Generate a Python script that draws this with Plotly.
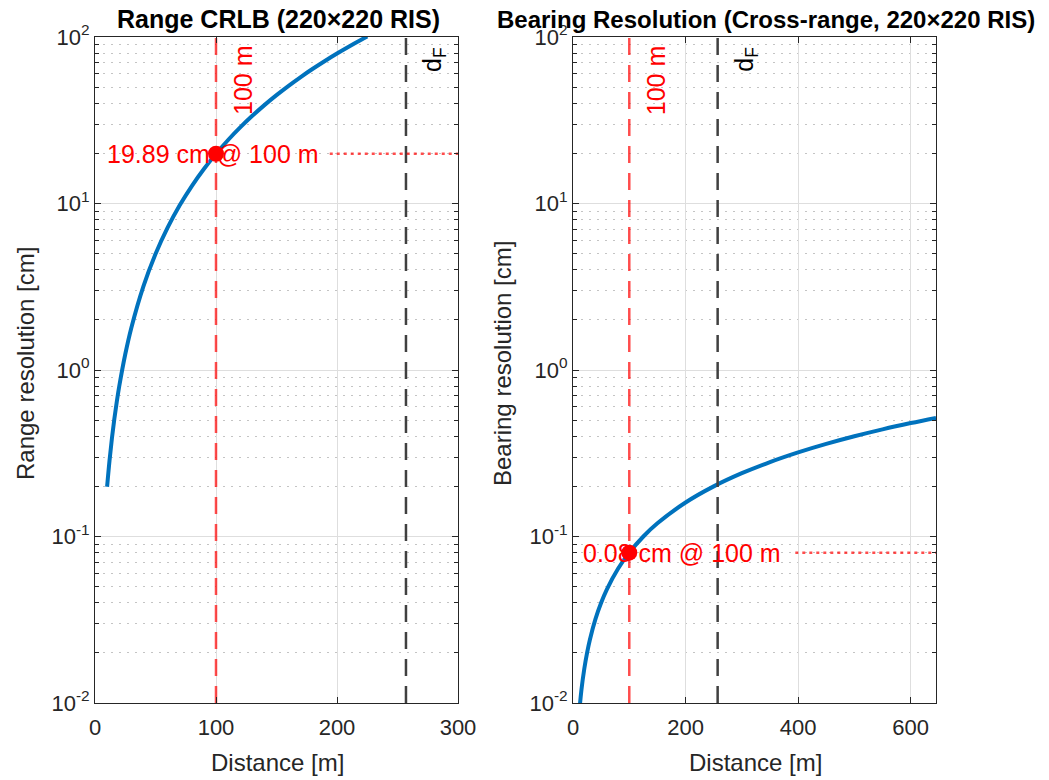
import math
import plotly.graph_objects as go

# Range CRLB vs distance (cm)
range_dist = [10, 12, 14, 16, 18, 20, 25, 30, 40, 50, 60, 70, 80, 90, 100, 110, 120,
              130, 140, 150, 160, 170, 180, 190, 200, 210, 220, 225]
range_cm = [0.199, 0.286, 0.390, 0.509, 0.644, 0.796, 1.243, 1.790, 3.18, 4.97, 7.16,
            9.75, 12.73, 16.11, 19.89, 24.07, 28.64, 33.61, 38.98, 44.75, 50.92, 57.48,
            64.44, 71.80, 79.56, 87.71, 96.27, 100.7]

# Bearing (cross-range) resolution vs distance (cm)
bear_dist = [10, 15, 20, 25, 30, 40, 50, 60, 80, 100, 125, 150, 200, 250, 300, 350,
             400, 450, 500, 550, 600, 645]
bear_cm = [0.0080, 0.0120, 0.0160, 0.0200, 0.0240, 0.0320, 0.0400, 0.0480, 0.0640,
           0.0800, 0.1000, 0.1200, 0.1600, 0.2000, 0.2400, 0.2800, 0.3200, 0.3600,
           0.4000, 0.4400, 0.4800, 0.5160]

ref_dist = 100
range_at_ref = 19.89
bear_at_ref = 0.08
d_fraunhofer = 257

y_ticks = [1e-2, 1e-1, 1e0, 1e1, 1e2]
y_ticktext = ["10<sup>-2</sup>", "10<sup>-1</sup>", "10<sup>0</sup>", "10<sup>1</sup>", "10<sup>2</sup>"]
left_xticks = [0, 100, 200, 300]
right_xticks = [0, 200, 400, 600]
left_xmax = 300
right_xmax = 645

FONT = "Liberation Sans, Arial, Helvetica, sans-serif"
INK = "#262626"
BLUE = "#0072BD"
RED = "#FF0000"
RED_SOFT = "rgba(255,0,0,0.7)"
DF_GRAY = "#404040"

minor_vals = [m * 10 ** e for e in range(-2, 2) for m in range(2, 10)]

fig = go.Figure()

panels = [
    dict(xa="x", ya="y", dist=range_dist, vals=range_cm, val_ref=range_at_ref,
         label="19.89 cm @ 100 m", label_x=8, dot_start=194, xmax=left_xmax),
    dict(xa="x2", ya="y2", dist=bear_dist, vals=bear_cm, val_ref=bear_at_ref,
         label="0.08 cm @ 100 m", label_x=14, dot_start=395, xmax=right_xmax),
]

for p in panels:
    # main curve
    fig.add_trace(go.Scatter(x=p["dist"], y=p["vals"], mode="lines", line_shape="spline",
                             line=dict(color=BLUE, width=4), xaxis=p["xa"], yaxis=p["ya"],
                             showlegend=False, hoverinfo="skip"))
    # reference distance line
    fig.add_trace(go.Scatter(x=[ref_dist, ref_dist], y=[y_ticks[0], y_ticks[-1]], mode="lines",
                             line=dict(color=RED_SOFT, width=2.5, dash="17px,10px"),
                             xaxis=p["xa"], yaxis=p["ya"], showlegend=False, hoverinfo="skip"))
    # Fraunhofer distance line
    fig.add_trace(go.Scatter(x=[d_fraunhofer, d_fraunhofer], y=[y_ticks[0], y_ticks[-1]], mode="lines",
                             line=dict(color=DF_GRAY, width=2.5, dash="17px,10px"),
                             xaxis=p["xa"], yaxis=p["ya"], showlegend=False, hoverinfo="skip"))
    # horizontal dotted guide
    fig.add_trace(go.Scatter(x=[p["dot_start"], p["xmax"]], y=[p["val_ref"], p["val_ref"]], mode="lines",
                             line=dict(color=RED_SOFT, width=2.5, dash="3px,4px"),
                             xaxis=p["xa"], yaxis=p["ya"], showlegend=False, hoverinfo="skip"))
    # marker at the reference distance
    fig.add_trace(go.Scatter(x=[ref_dist], y=[p["val_ref"]], mode="markers",
                             marker=dict(color=RED, size=16), xaxis=p["xa"], yaxis=p["ya"],
                             showlegend=False, hoverinfo="skip"))
    fig.add_annotation(x=p["label_x"], y=math.log10(p["val_ref"]), xref=p["xa"], yref=p["ya"],
                       text=p["label"], showarrow=False, xanchor="left", yanchor="middle",
                       font=dict(family=FONT, size=25, color=RED))
    fig.add_annotation(x=ref_dist, y=1.955, xref=p["xa"], yref=p["ya"], text="100 m",
                       textangle=-90, showarrow=False, xanchor="center", yanchor="top",
                       xshift=27, font=dict(family=FONT, size=25, color=RED))
    fig.add_annotation(x=d_fraunhofer, y=1.955, xref=p["xa"], yref=p["ya"], text="d<sub>F</sub>",
                       textangle=-90, showarrow=False, xanchor="center", yanchor="top",
                       xshift=28, font=dict(family=FONT, size=25, color="#000000"))

W, H = 1049, 780
ML, MR, MT, MB = 95, 113, 37, 77
PW = W - ML - MR
left_dom = [0, (458 - ML) / PW]
right_dom = [(573 - ML) / PW, 1]

common_x = dict(showline=True, linecolor=INK, linewidth=1, mirror="ticks", ticks="inside",
                ticklen=6, tickcolor=INK, showgrid=True, gridcolor="#dedede", gridwidth=1,
                zeroline=False, automargin=False, ticklabelstandoff=5,
                tickfont=dict(family=FONT, size=22, color=INK))
common_y = dict(type="log", range=[-2, 2], showline=True, linecolor=INK, linewidth=1,
                mirror="ticks", ticks="inside", ticklen=6, tickcolor=INK,
                tickmode="array", tickvals=y_ticks, ticktext=y_ticktext,
                showgrid=True, gridcolor="#dedede", gridwidth=1, zeroline=False, automargin=False,
                tickfont=dict(family=FONT, size=22, color=INK),
                minor=dict(tickmode="array", tickvals=minor_vals, ticks="inside", ticklen=4,
                           tickcolor=INK, showgrid=True, gridcolor="#c4c4c4", griddash="2px,6px",
                           gridwidth=1))

fig.update_layout(
    width=W, height=H, margin=dict(l=ML, r=MR, t=MT, b=MB),
    paper_bgcolor="white", plot_bgcolor="white",
    xaxis=dict(domain=left_dom, range=[0, left_xmax], tickvals=left_xticks, anchor="y", **common_x),
    yaxis=dict(domain=[0, 1], anchor="x", **common_y),
    xaxis2=dict(domain=right_dom, range=[0, right_xmax], tickvals=right_xticks, anchor="y2", **common_x),
    yaxis2=dict(domain=[0, 1], anchor="x2", **common_y),
)


def px_x(px):
    return (px - ML) / PW


def px_y(py):
    return (H - MB - py) / (H - MT - MB)


label_font = dict(family=FONT, size=24, color=INK)
title_font = dict(family=FONT, size=25, color="#000000")

# panel titles
fig.add_annotation(x=px_x(278), y=px_y(19), xref="paper", yref="paper", showarrow=False,
                   text="<b>Range CRLB (220×220 RIS)</b>", xanchor="center", yanchor="middle",
                   font=title_font)
fig.add_annotation(x=px_x(766), y=px_y(19), xref="paper", yref="paper", showarrow=False,
                   text="<b>Bearing Resolution (Cross-range, 220×220 RIS)</b>", xanchor="center",
                   yanchor="middle", font=dict(family=FONT, size=24, color="#000000"))
# axis titles
fig.add_annotation(x=px_x(277), y=px_y(762), xref="paper", yref="paper", showarrow=False,
                   text="Distance [m]", xanchor="center", yanchor="middle", font=label_font)
fig.add_annotation(x=px_x(755), y=px_y(762), xref="paper", yref="paper", showarrow=False,
                   text="Distance [m]", xanchor="center", yanchor="middle", font=label_font)
fig.add_annotation(x=px_x(25), y=px_y(364), xref="paper", yref="paper", showarrow=False,
                   text="Range resolution [cm]", textangle=-90, xanchor="center", yanchor="middle",
                   font=label_font)
fig.add_annotation(x=px_x(502), y=px_y(364), xref="paper", yref="paper", showarrow=False,
                   text="Bearing resolution [cm]", textangle=-90, xanchor="center", yanchor="middle",
                   font=label_font)

fig.write_html("out.html")
